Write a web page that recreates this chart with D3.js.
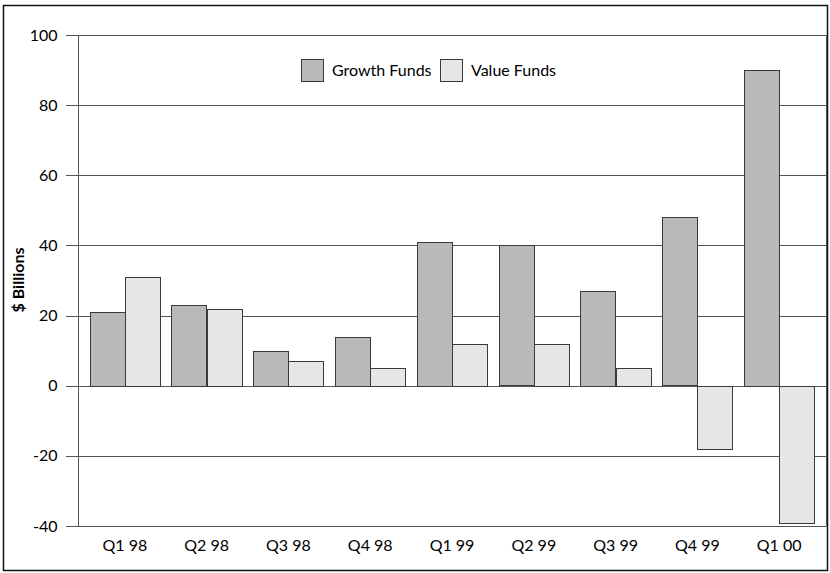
<!DOCTYPE html>
<html><head><meta charset="utf-8">
<script src="https://cdn.jsdelivr.net/npm/d3@7"></script>
<style>body{margin:0;background:#fff}svg{display:block}text{font-family:Lato,"Open Sans",sans-serif;fill:#000}</style>
</head><body><svg id="c" width="830" height="573"></svg>
<script>
const categories = ["Q1 98","Q2 98","Q3 98","Q4 98","Q1 99","Q2 99","Q3 99","Q4 99","Q1 00"];
const growth = [21, 23, 10, 14, 41, 40, 27, 48, 90];
const value = [31, 22, 7, 5, 12, 12, 5, -18, -39];
const seriesNames = ["Growth Funds", "Value Funds"];
const yTicks = [-40, -20, 0, 20, 40, 60, 80, 100];

const svg = d3.select("#c");
const L = 78, R = 826, T = 35, B = 526;
const colors = ["#b9b9b9", "#e6e6e6"];
const stroke = "#3a3a3a";

svg.append("rect").attr("x", 3.5).attr("y", 5.5).attr("width", 824).attr("height", 565)
  .attr("fill", "none").attr("stroke", "#111").attr("stroke-width", 1.5);

const y = d3.scaleLinear().domain([-40, 100]).range([B, T]);
const x = d3.scaleBand().domain(categories).range([L, R]).paddingInner(0.14).paddingOuter(0.1425);
const x1 = d3.scaleBand().domain(seriesNames).range([0, x.bandwidth()]);

// gridlines
svg.append("g").selectAll("line").data(yTicks).join("line")
  .attr("x1", L - 12).attr("x2", R).attr("y1", d => Math.round(y(d)) + 0.5).attr("y2", d => Math.round(y(d)) + 0.5)
  .attr("stroke", "#555").attr("stroke-width", 1);

// y axis
const ya = svg.append("g").attr("transform", `translate(${L + 0.5},0)`)
  .call(d3.axisLeft(y).tickValues(yTicks).tickSize(12).tickPadding(9).tickFormat(d => String(d)));
ya.select(".domain").remove();
ya.selectAll(".tick line").remove();
ya.selectAll("text").attr("font-size", 16).attr("font-family", "Lato, sans-serif").attr("fill", "#000");
svg.append("line").attr("x1", L + 0.5).attr("x2", L + 0.5).attr("y1", T).attr("y2", B + 0.5).attr("stroke", "#555");
svg.append("line").attr("x1", R + 0.5).attr("x2", R + 0.5).attr("y1", T).attr("y2", B + 0.5).attr("stroke", "#555");

// bars
const g = svg.append("g");
categories.forEach((c, i) => {
  [growth[i], value[i]].forEach((v, j) => {
    g.append("rect")
      .attr("x", Math.round(x(c) + x1(seriesNames[j])) + 0.5)
      .attr("y", Math.round(y(Math.max(0, v))) + 0.5)
      .attr("width", Math.round(x1.bandwidth()))
      .attr("height", Math.round(Math.abs(y(v) - y(0))))
      .attr("fill", colors[j]).attr("stroke", stroke).attr("stroke-width", 1);
  });
});

// x axis labels
const xa = svg.append("g").attr("transform", `translate(0,${B})`)
  .call(d3.axisBottom(x).tickSize(0).tickPadding(14));
xa.select(".domain").remove();
xa.selectAll("text").attr("font-size", 16).attr("font-family", "Lato, sans-serif").attr("fill", "#000");

// y label
svg.append("text").attr("transform", "translate(24,280) rotate(-90)")
  .attr("text-anchor", "middle").attr("font-size", 16).attr("font-weight", "bold").text("$ Billions");

// legend
const legX = [301, 440];
seriesNames.forEach((n, j) => {
  svg.append("rect").attr("x", legX[j] + 0.5).attr("y", 59.5).attr("width", 22).attr("height", 22)
    .attr("fill", colors[j]).attr("stroke", stroke);
  svg.append("text").attr("x", legX[j] + 31).attr("y", 76).attr("font-size", 16).text(n);
});
</script></body></html>
